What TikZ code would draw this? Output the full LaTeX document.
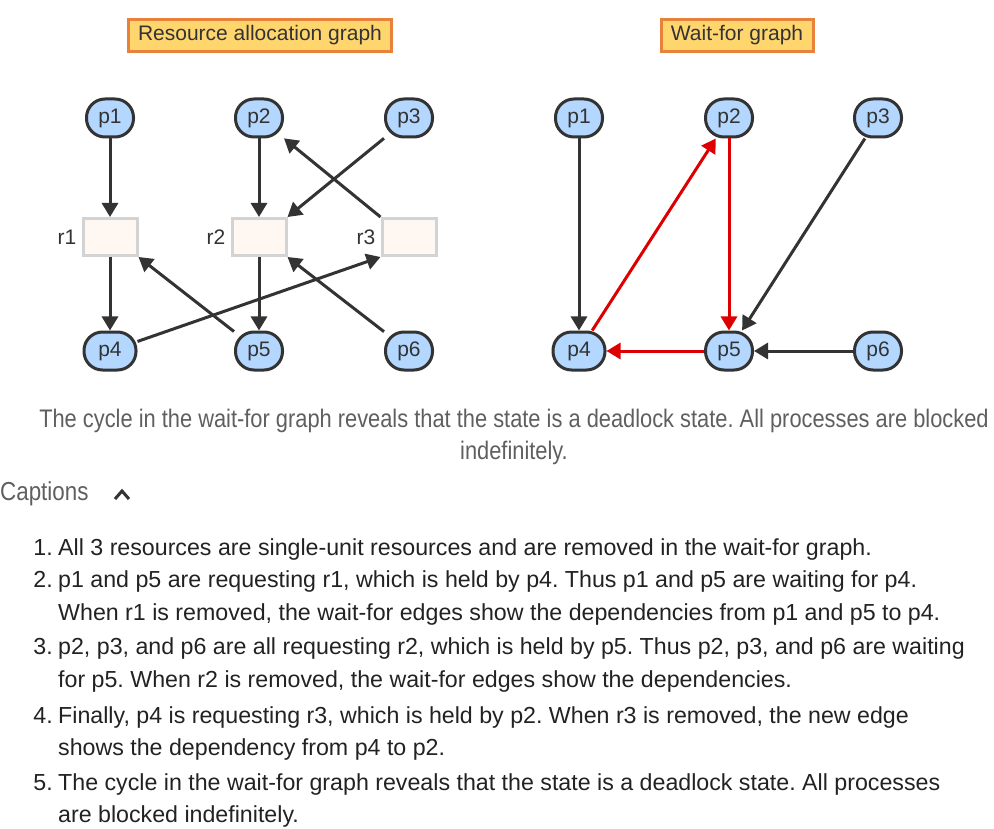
\documentclass[tikz,border=0pt]{standalone}
\usepackage{fontspec}
\setmainfont{Liberation Sans}
\newfontfamily\capfont[FakeStretch=0.86]{Liberation Sans}
\usetikzlibrary{arrows.meta, positioning}
\definecolor{procblue}{RGB}{179, 215, 255}
\definecolor{edgegray}{RGB}{51, 51, 51}
\definecolor{resfill}{RGB}{255, 247, 242}
\definecolor{resline}{RGB}{211, 211, 211}
\definecolor{titlefill}{RGB}{255, 214, 110}
\definecolor{titleline}{RGB}{232, 130, 58}
\definecolor{cycred}{RGB}{221, 0, 0}
\definecolor{capgray}{RGB}{95, 95, 95}
\definecolor{listtext}{RGB}{34, 34, 34}
\frenchspacing

\begin{document}
\begin{tikzpicture}[x=1pt, y=-1pt,
  proc/.style={draw=edgegray, line width=3pt, fill=procblue, rounded corners=18.5pt,
    minimum width=47pt, minimum height=38pt, inner sep=0pt,
    font=\fontsize{21}{22}\selectfont, text=edgegray},
  res/.style={draw=resline, line width=3pt, fill=resfill,
    minimum width=54pt, minimum height=37pt},
  reslabel/.style={font=\fontsize{21}{22}\selectfont, text=edgegray, inner sep=0pt},
  titlebox/.style={draw=titleline, line width=3pt, fill=titlefill, minimum height=32pt,
    font=\fontsize{21}{22}\selectfont, text=edgegray},
  wait/.style={-{Triangle[length=14pt,width=16pt]}, line width=3pt, draw=edgegray},
  cyc/.style={wait, draw=cycred},
  listline/.style={font=\fontsize{23.2}{26}\selectfont, text=listtext, inner sep=0pt, anchor=base west}
]
\useasboundingbox (0,0) rectangle (994,829);

% titles
\node[titlebox, minimum width=263pt] (ragtitle) at (260,35.5) {Resource allocation graph};
\node[titlebox, minimum width=152pt] (wfgtitle) at (737,35.5) {Wait-for graph};

% resource allocation graph
\node[proc] (p1) at (110,118) {p1};
\node[proc] (p2) at (259,118) {p2};
\node[proc] (p3) at (409,118) {p3};
\node[res] (r1) at (110,237) {};
\node[res] (r2) at (259,237) {};
\node[res] (r3) at (409,237) {};
\node[reslabel, left=5pt of r1] (lr1) {r1};
\node[reslabel, left=5pt of r2] (lr2) {r2};
\node[reslabel, left=5pt of r3] (lr3) {r3};
\node[proc, minimum width=52pt] (p4) at (110,351) {p4};
\node[proc] (p5) at (259,351) {p5};
\node[proc] (p6) at (409,351) {p6};

\draw[wait] (p1) -- (r1);
\draw[wait] (r1) -- (p4);
\draw[wait] (p2) -- (r2);
\draw[wait] (r2) -- (p5);
\draw[wait] (p3) -- (r2.north east);
\draw[wait] (r3.north west) -- (p2);
\draw[wait] (p4) -- (r3.south west);
\draw[wait] (p5) -- (r1.south east);
\draw[wait] (p6) -- (r2.south east);

% wait-for graph
\node[proc] (wp1) at (579,118) {p1};
\node[proc] (wp2) at (729,118) {p2};
\node[proc] (wp3) at (878,118) {p3};
\node[proc, minimum width=52pt] (wp4) at (579,351) {p4};
\node[proc] (wp5) at (729,351) {p5};
\node[proc] (wp6) at (878,351) {p6};

\draw[wait] (wp1) -- (wp4);
\draw[cyc] (wp4) -- (wp2);
\draw[cyc] (wp2) -- (wp5);
\draw[cyc] (wp5) -- (wp4);
\draw[wait] (wp3) -- (wp5);
\draw[wait] (wp6) -- (wp5);

% caption
\node[align=center, text=capgray, inner sep=0pt, font=\capfont\fontsize{25.4}{32}\selectfont]
  (cap) at (514,437) {The cycle in the wait-for graph reveals that the state is a deadlock state. All processes are blocked\\indefinitely.};
\node[anchor=west, inner sep=0pt, text=capgray, font=\capfont\fontsize{26}{28}\selectfont]
  (captions) at (0,494) {Captions};
\draw[edgegray, line width=3pt] (115,499) -- (122,491) -- (129,499);

% numbered list
\foreach \yb/\num/\txt [count=\i] in {
  555/1./{All 3 resources are single-unit resources and are removed in the wait-for graph.},
  587/2./{p1 and p5 are requesting r1, which is held by p4. Thus p1 and p5 are waiting for p4.},
  620//{When r1 is removed, the wait-for edges show the dependencies from p1 and p5 to p4.},
  654/3./{p2, p3, and p6 are all requesting r2, which is held by p5. Thus p2, p3, and p6 are waiting},
  687//{for p5. When r2 is removed, the wait-for edges show the dependencies.},
  723/4./{Finally, p4 is requesting r3, which is held by p2. When r3 is removed, the new edge},
  755//{shows the dependency from p4 to p2.},
  790/5./{The cycle in the wait-for graph reveals that the state is a deadlock state. All processes},
  822//{are blocked indefinitely.}} {
  \node[listline, anchor=base east] (num\i) at (53,\yb) {\num};
  \node[listline] (item\i) at (58,\yb) {\txt};
}
\end{tikzpicture}
\end{document}
